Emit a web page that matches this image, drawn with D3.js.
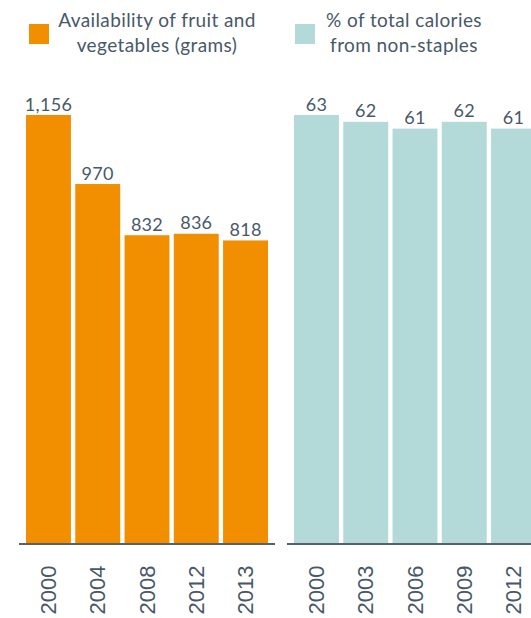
<!DOCTYPE html>
<html>
<head>
<meta charset="utf-8">
<script src="https://cdn.jsdelivr.net/npm/d3@7"></script>
<style>
  html, body { margin: 0; padding: 0; background: #fff; }
  svg { display: block; }
</style>
</head>
<body>
<svg id="chart" width="531" height="618"></svg>
<script>
// Fruit & vegetable availability (grams)
const fruitYears = ["2000", "2004", "2008", "2012", "2013"];
const fruitGrams = [1156, 970, 832, 836, 818];

// Share of total calories coming from non-staple foods (%)
const calYears = ["2000", "2003", "2006", "2009", "2012"];
const calShare = [63, 62, 61, 62, 61];

const legendLabels = [
  ["Availability of fruit and", "vegetables (grams)"],
  ["% of total calories", "from non-staples"]
];

const orange = "#F28F00";
const teal = "#B3D9D8";
const ink = "#485869";
const labelFont = "Lato, 'Open Sans', sans-serif";
const tickFont = "'Liberation Sans', Arial, sans-serif";

const svg = d3.select("#chart");

const baseY = 544, topY = 115;

function panel(years, values, x0, x1, axisX0, axisX1, color, fmt) {
  const x = d3.scaleBand().domain(years).range([x0, x1]).paddingInner(0.088).paddingOuter(0);
  const y = d3.scaleLinear().domain([0, d3.max(values)]).range([baseY, topY]);
  const rows = years.map((yr, i) => ({ yr, v: values[i] }));
  const g = svg.append("g");

  g.selectAll("rect.bar").data(rows).join("rect")
    .attr("class", "bar")
    .attr("x", d => x(d.yr))
    .attr("width", x.bandwidth())
    .attr("y", d => y(d.v))
    .attr("height", d => y(0) - y(d.v))
    .attr("fill", color);

  g.selectAll("text.val").data(rows).join("text")
    .attr("class", "val")
    .attr("x", d => x(d.yr) + x.bandwidth() / 2)
    .attr("y", d => y(d.v) - 4.5)
    .attr("text-anchor", "middle")
    .attr("font-family", labelFont)
    .attr("font-size", 18)
    .attr("letter-spacing", 0.3)
    .attr("fill", ink)
    .text(d => fmt(d.v));

  // baseline
  g.append("line")
    .attr("x1", axisX0).attr("x2", axisX1)
    .attr("y1", baseY).attr("y2", baseY)
    .attr("stroke", "#56636f")
    .attr("stroke-width", 2.2);

  // rotated year labels
  g.selectAll("text.tick").data(rows).join("text")
    .attr("class", "tick")
    .attr("transform", d => `translate(${x(d.yr) + x.bandwidth() / 2},590) rotate(-90)`)
    .attr("text-anchor", "middle")
    .attr("dominant-baseline", "central")
    .attr("font-family", tickFont)
    .attr("font-size", 22)
    .attr("fill", ink)
    .text(d => d.yr);
}

panel(fruitYears, fruitGrams, 26, 268, 19, 275, orange, d3.format(","));
panel(calYears, calShare, 294, 536, 287, 543, teal, d3.format("d"));

// legend
const legend = [
  { color: orange, sx: 29, cx: 157, lines: legendLabels[0] },
  { color: teal, sx: 295, cx: 404, lines: legendLabels[1] }
];
legend.forEach(l => {
  svg.append("rect")
    .attr("x", l.sx).attr("y", 24)
    .attr("width", 20).attr("height", 20)
    .attr("fill", l.color);
  l.lines.forEach((t, i) => {
    svg.append("text")
      .attr("x", l.cx).attr("y", 27 + i * 25)
      .attr("text-anchor", "middle")
      .attr("font-family", labelFont)
      .attr("font-size", 19)
      .attr("letter-spacing", 0.4)
      .attr("fill", ink)
      .text(t);
  });
});
</script>
</body>
</html>
